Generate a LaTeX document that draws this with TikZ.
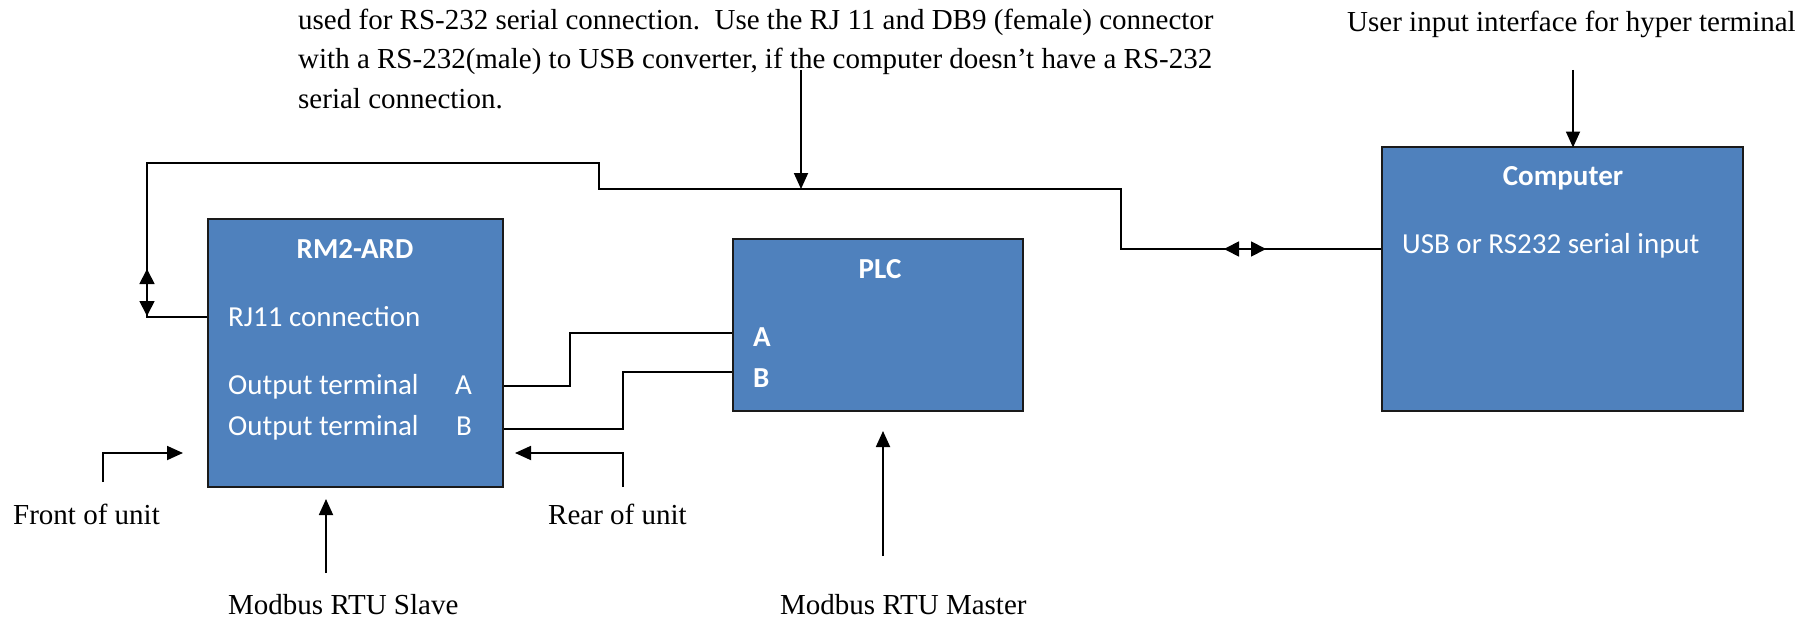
\documentclass[tikz,border=0pt]{standalone}
\usepackage{fontspec}
\setmainfont{Liberation Serif}
\newfontfamily\calfont{Carlito}
\usetikzlibrary{arrows.meta}
\definecolor{boxblue}{HTML}{4F81BD}
\definecolor{boxline}{HTML}{1A1A1A}
\frenchspacing
\begin{document}
\begin{tikzpicture}[x=1pt,y=-1pt,
  box/.style={draw=boxline, fill=boxblue, line width=2pt, inner sep=0pt},
  wire/.style={line width=1.8pt, draw=black},
  arr/.style={wire, -{Triangle[length=16pt,width=14pt]}},
  dbl/.style={wire, {Triangle[length=15pt,width=15pt]}-{Triangle[length=15pt,width=15pt]}},
  lbl/.style={inner sep=0pt, font=\fontsize{29}{39}\selectfont, anchor=base west},
  btxt/.style={inner sep=0pt, font=\calfont\fontsize{29}{34}\selectfont, text=white, anchor=base west},
  bhead/.style={inner sep=0pt, font=\calfont\bfseries\fontsize{29}{34}\selectfont, text=white, anchor=base},
]
\useasboundingbox (0,0) rectangle (1810,618);

% boxes
\node[box, minimum width=295pt, minimum height=268pt] (rm) at (355.5,353) {};
\node[box, minimum width=290pt, minimum height=172pt] (plc) at (878,325) {};
\node[box, minimum width=361pt, minimum height=264pt] (comp) at (1562.5,278.5) {};

% box texts
\node[bhead] (rmh) at (355,258) {RM2-ARD};
\node[btxt] (rj) at (228,326) {RJ11 connection};
\node[btxt] (oa) at (228,394) {Output terminal};
\node[btxt] (oaA) at (455,394) {A};
\node[btxt] (ob) at (228,435) {Output terminal};
\node[btxt] (obB) at (456,435) {B};
\node[bhead] (plch) at (880,278) {PLC};
\node[btxt, font=\calfont\bfseries\fontsize{29}{34}\selectfont] (pa) at (753,346) {A};
\node[btxt, font=\calfont\bfseries\fontsize{29}{34}\selectfont] (pb) at (753,387) {B};
\node[bhead] (comph) at (1563,185) {Computer};
\node[btxt] (usb) at (1402,253) {USB or RS232 serial input};

% outside labels
\node[lbl] (t1) at (298,30) {used for RS-232 serial connection.\ \ Use the RJ 11 and DB9 (female) connector};
\node[lbl] (t2) at (298,69) {with a RS-232(male) to USB converter, if the computer doesn’t have a RS-232};
\node[lbl] (t3) at (298,108) {serial connection.};
\node[lbl] (user) at (1347,32) {User input interface for hyper terminal};
\node[lbl] (front) at (13,524) {Front of unit};
\node[lbl] (rear) at (548,524) {Rear of unit};
\node[lbl] (slave) at (228,614) {Modbus RTU Slave};
\node[lbl] (master) at (780,614) {Modbus RTU Master};

% coordinates
\coordinate (rmRJ) at (rm.west |- 0,317);
\coordinate (compIn) at (comp.west |- 0,249);
\coordinate (rmA) at (rm.east |- 0,386);
\coordinate (rmB) at (rm.east |- 0,429);
\coordinate (plcA) at (plc.west |- 0,333);
\coordinate (plcB) at (plc.west |- 0,372);
\coordinate (noteS) at (801,70);
\coordinate (noteE) at (801,189);
\coordinate (userS) at (1573,70);
\coordinate (userE) at (comp.north -| 1573,0);
\coordinate (frontS) at (103,482);
\coordinate (frontE) at (183,453);
\coordinate (rearS) at (623,487);
\coordinate (rearE) at (515,453);
\coordinate (slaveS) at (326,573);
\coordinate (slaveE) at (326,499);
\coordinate (masterS) at (883,556);
\coordinate (masterE) at (883,431);

% main serial cable
\draw[wire] (rmRJ) -- (147,317) -- (147,163) -- (599,163) -- (599,189) -- (1121,189) -- (1121,249) -- (compIn);
\draw[dbl] (147,269) -- (147,316);
\draw[dbl] (1224,249) -- (1266,249);

% RS-485 wires
\draw[wire] (rmA) -- (570,386) -- (570,333) -- (plcA);
\draw[wire] (rmB) -- (623,429) -- (623,372) -- (plcB);

% pointer arrows
\draw[arr] (noteS) -- (noteE);
\draw[arr] (userS) -- ([yshift=-2pt]userE);
\draw[arr] (frontS) -- (frontS |- frontE) -- (frontE);
\draw[arr] (rearS) -- (rearS |- rearE) -- (rearE);
\draw[arr] (slaveS) -- (slaveE);
\draw[arr] (masterS) -- (masterE);
\end{tikzpicture}
\end{document}
